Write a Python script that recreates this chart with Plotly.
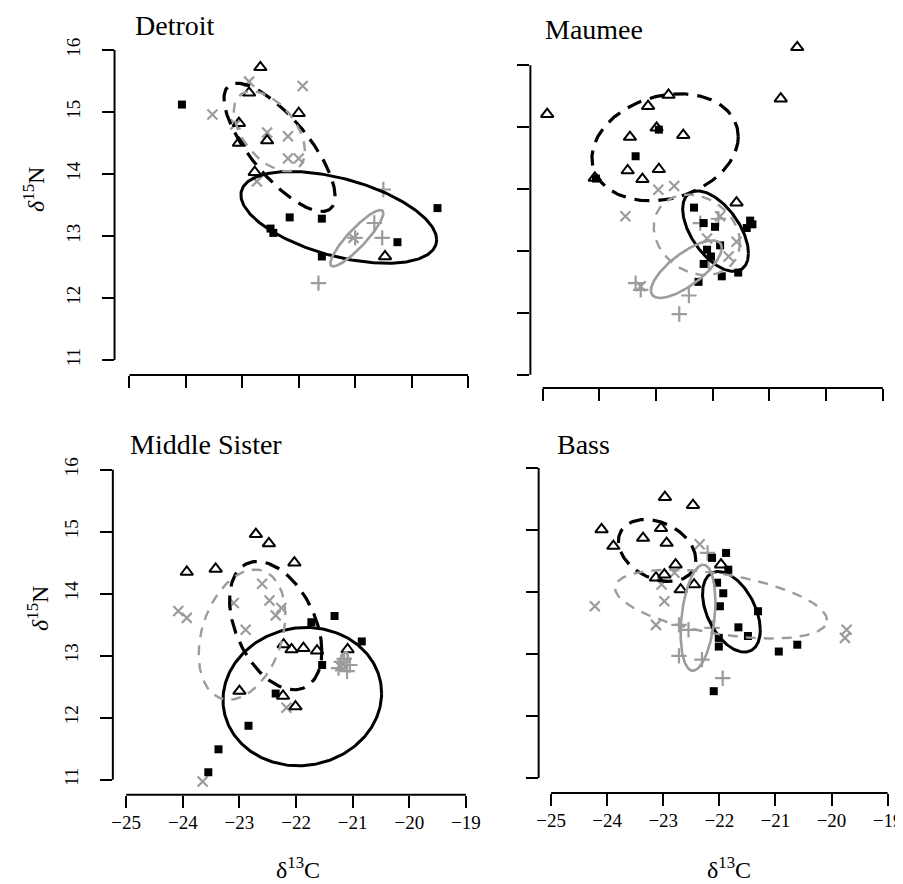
import numpy as np
import plotly.graph_objects as go

W, H = 903, 884

# ---------------- data ----------------
SITES = ["Detroit", "Maumee", "Middle Sister", "Bass"]
X_TICKS = [-25, -24, -23, -22, -21, -20, -19]
X_TICK_LABELS = ["\u221225", "\u221224", "\u221223", "\u221222", "\u221221", "\u221220", "\u221219"]
Y_TICKS = [11, 12, 13, 14, 15, 16]
Y_TICK_LABELS = ["11", "12", "13", "14", "15", "16"]

# Detroit
DET_SQ_X = [-24.07, -22.16, -21.59, -22.50, -22.45, -20.25, -21.59, -19.54]
DET_SQ_Y = [15.12, 13.30, 13.28, 13.12, 13.05, 12.90, 12.67, 13.45]
DET_TRI_X = [-22.68, -22.88, -22.00, -23.06, -23.06, -22.56, -22.78, -20.47]
DET_TRI_Y = [15.72, 15.31, 14.98, 14.82, 14.50, 14.54, 14.03, 12.67]
DET_X_X = [-22.88, -21.93, -23.53, -23.12, -22.56, -22.19, -22.19, -22.00, -22.74, -21.03]
DET_X_Y = [15.49, 15.42, 14.96, 14.80, 14.67, 14.61, 14.25, 14.25, 13.88, 12.97]
DET_PL_X = [-20.50, -20.66, -20.52, -21.00, -21.65]
DET_PL_Y = [13.75, 13.21, 12.97, 12.97, 12.24]

# Maumee
MAU_SQ_X = [-22.95, -23.36, -24.06, -22.33, -22.16, -21.96, -21.34, -21.30, -21.40, -21.87, -22.10, -22.03, -21.84, -21.55, -22.25, -22.16]
MAU_SQ_Y = [14.96, 14.53, 14.17, 13.70, 13.45, 13.39, 13.49, 13.43, 13.37, 13.09, 13.02, 12.91, 12.59, 12.65, 12.50, 12.79]
MAU_TRI_X = [-24.92, -20.51, -20.80, -22.78, -23.14, -22.99, -23.46, -22.52, -23.50, -22.95, -23.24, -24.08, -21.58]
MAU_TRI_Y = [15.21, 16.29, 15.46, 15.52, 15.34, 14.99, 14.84, 14.87, 14.30, 14.32, 14.16, 14.18, 13.78]
MAU_X_X = [-22.96, -22.68, -23.54, -21.87, -22.10, -21.72, -21.58, -23.27]
MAU_X_Y = [13.99, 14.05, 13.56, 13.56, 13.20, 12.91, 13.15, 12.43]
MAU_PL_X = [-23.36, -23.27, -22.59, -22.42, -22.22, -22.07, -21.90]
MAU_PL_Y = [12.48, 12.37, 11.98, 12.28, 13.45, 12.83, 13.52]

# Middle Sister
MS_SQ_X = [-21.32, -21.73, -20.84, -21.54, -22.36, -22.84, -23.37, -23.55]
MS_SQ_Y = [13.64, 13.54, 13.23, 12.85, 12.39, 11.87, 11.49, 11.12]
MS_TRI_X = [-22.71, -22.48, -23.93, -23.42, -22.03, -22.22, -22.08, -21.87, -21.63, -21.09, -23.00, -22.23, -22.01]
MS_TRI_Y = [14.96, 14.81, 14.35, 14.40, 14.50, 13.18, 13.10, 13.12, 13.08, 13.10, 12.43, 12.35, 12.18]
MS_X_X = [-24.08, -23.93, -22.60, -22.47, -22.26, -22.36, -22.89, -23.10, -22.17, -23.65, -21.22]
MS_X_Y = [13.72, 13.61, 14.16, 13.89, 13.77, 13.65, 13.42, 13.85, 12.16, 10.97, 12.83]
MS_PL_X = [-21.25, -21.05, -21.15, -21.10, -21.20]
MS_PL_Y = [12.80, 12.85, 12.95, 12.75, 12.90]

# Bass
BAS_SQ_X = [-21.88, -22.13, -21.84, -22.04, -21.93, -21.99, -21.31, -21.66, -21.49, -22.01, -22.01, -20.61, -20.94, -22.10]
BAS_SQ_Y = [14.63, 14.55, 14.36, 14.15, 13.98, 13.77, 13.69, 13.43, 13.29, 13.26, 13.12, 13.15, 13.04, 12.40]
BAS_TRI_X = [-22.97, -22.47, -24.10, -23.04, -23.36, -22.94, -23.89, -22.78, -21.97, -22.98, -22.69, -22.45, -23.13]
BAS_TRI_Y = [15.53, 15.40, 15.01, 15.03, 14.87, 14.79, 14.74, 14.44, 14.44, 14.28, 14.04, 14.12, 14.23]
BAS_X_X = [-22.35, -24.22, -22.98, -23.03, -23.13, -19.73, -19.76, -22.80]
BAS_X_Y = [14.77, 13.77, 13.85, 14.12, 13.47, 13.39, 13.26, 14.31]
BAS_PL_X = [-22.21, -22.72, -22.55, -22.13, -22.72, -22.31, -21.94]
BAS_PL_Y = [14.63, 13.47, 13.39, 13.42, 12.97, 12.91, 12.61]

# standard ellipses: centre x, centre y, sd x, sd y, correlation  (order: SQ, TRI, X, PL)
DET_ELL = [(-21.29, 13.30, 1.735, 0.74, -0.49), (-22.34, 14.43, 0.985, 1.035, -0.76),
           (-22.52, 14.69, 0.63, 0.645, -0.50), (-20.97, 12.965, 0.47, 0.455, 0.89)]
MAU_ELL = [(-21.95, 13.32, 0.58, 0.65, -0.55), (-22.84, 14.675, 1.29, 0.865, 0.20),
           (-22.28, 13.26, 0.76, 0.65, -0.20), (-22.465, 12.705, 0.625, 0.465, 0.74)]
MS_ELL = [(-21.89, 12.34, 1.40, 1.115, 0.05), (-22.36, 13.485, 0.815, 1.035, -0.40),
          (-22.955, 13.34, 0.765, 1.05, 0.30), (-21.16, 12.91, 0.075, 0.15, 0.50)]
BAS_ELL = [(-21.785, 13.68, 0.515, 0.65, -0.45), (-23.11, 14.67, 0.69, 0.50, -0.30),
           (-21.97, 13.805, 1.89, 0.555, -0.47), (-22.38, 13.585, 0.31, 0.855, 0.30)]

DATA = {
    "Detroit": [(DET_SQ_X, DET_SQ_Y), (DET_TRI_X, DET_TRI_Y), (DET_X_X, DET_X_Y), (DET_PL_X, DET_PL_Y), DET_ELL],
    "Maumee": [(MAU_SQ_X, MAU_SQ_Y), (MAU_TRI_X, MAU_TRI_Y), (MAU_X_X, MAU_X_Y), (MAU_PL_X, MAU_PL_Y), MAU_ELL],
    "Middle Sister": [(MS_SQ_X, MS_SQ_Y), (MS_TRI_X, MS_TRI_Y), (MS_X_X, MS_X_Y), (MS_PL_X, MS_PL_Y), MS_ELL],
    "Bass": [(BAS_SQ_X, BAS_SQ_Y), (BAS_TRI_X, BAS_TRI_Y), (BAS_X_X, BAS_X_Y), (BAS_PL_X, BAS_PL_Y), BAS_ELL],
}

# ---------------- layout geometry (pixels) ----------------
# y-axis x position, x-axis y position, pixel of x=-25, x=-19, y=16, y=11
GEOM = {
    "Detroit": (105, 367, 120, 460, 42, 352),
    "Maumee": (522.7, 380, 535, 876.7, 57.3, 366.7),
    "Middle Sister": (103.3, 786.7, 116.7, 458, 461.7, 771.7),
    "Bass": (531, 785, 543.5, 881.5, 460, 770),
}
TOP_EXTRA = 28  # extra plot room above the y=16 tick (keeps points above 16 visible)
TITLE_POS = {"Detroit": (124, 17), "Maumee": (535, 21), "Middle Sister": (119, 436), "Bass": (547, 436)}

GRAY = "#9c9c9c"
SERIF = "Liberation Serif"

fig = go.Figure()
layout = dict(width=W, height=H, margin=dict(l=0, r=0, t=0, b=0),
              paper_bgcolor="white", plot_bgcolor="white", showlegend=False)
shapes = []
annotations = []

t = np.linspace(0, 2 * np.pi, 241)

for i, site in enumerate(SITES):
    n = "" if i == 0 else str(i + 1)
    xname, yname = "x" + n, "y" + n
    yax_x, xax_y, px25, px19, py16, py11 = GEOM[site]
    pux = (px19 - px25) / 6.0
    offx = px25 - yax_x
    puy = (py11 - py16) / 5.0
    offy = xax_y - py11
    xr = [-25 - offx / pux, -19 + offx / pux]
    yr = [11 - offy / puy, 16 + TOP_EXTRA / puy]
    xd = [yax_x / W, min(1.0, (px19 + offx) / W)]
    yd = [1 - xax_y / H, 1 - (py16 - TOP_EXTRA) / H]
    xr[1] = -25 + (xd[1] * W - px25) / pux
    bottom = i >= 2
    left = i % 2 == 0
    layout["xaxis" + n] = dict(domain=xd, range=xr, anchor=yname, tickmode="array",
                               tickvals=X_TICKS, ticktext=X_TICK_LABELS, ticks="outside",
                               ticklen=12, tickwidth=2, tickcolor="black", showline=False,
                               showgrid=False, zeroline=False, showticklabels=bottom,
                               ticklabelstandoff=-2, ticklabeloverflow="allow",
                               tickfont=dict(family=SERIF, size=19, color="black"))
    layout["yaxis" + n] = dict(domain=yd, range=yr, anchor=xname, tickmode="array",
                               tickvals=Y_TICKS, ticktext=Y_TICK_LABELS, ticks="outside",
                               ticklen=12, tickwidth=2, tickcolor="black", showline=False,
                               showgrid=False, zeroline=False, showticklabels=left,
                               tickangle=-90, ticklabelstandoff=14, ticklabeloverflow="allow",
                               tickfont=dict(family=SERIF, size=19, color="black"))
    # R-style axis lines spanning first..last tick
    shapes.append(dict(type="line", xref=xname, yref=yname + " domain", x0=X_TICKS[0], x1=X_TICKS[-1],
                       y0=0, y1=0, line=dict(color="black", width=2)))
    shapes.append(dict(type="line", xref=xname + " domain", yref=yname, x0=0, x1=0,
                       y0=Y_TICKS[0], y1=Y_TICKS[-1], line=dict(color="black", width=2)))

    sq, tri, xx, pl, ells = DATA[site]
    common = dict(xaxis=xname, yaxis=yname, mode="markers", cliponaxis=False, hoverinfo="skip")
    fig.add_trace(go.Scatter(x=xx[0], y=xx[1], marker=dict(symbol="x-thin", size=10,
                             line=dict(color=GRAY, width=2.2)), **common))
    fig.add_trace(go.Scatter(x=pl[0], y=pl[1], marker=dict(symbol="cross-thin", size=11,
                             line=dict(color=GRAY, width=2.2)), **common))
    fig.add_trace(go.Scatter(x=sq[0], y=sq[1], marker=dict(symbol="square", size=8, color="black",
                             line=dict(width=0)), **common))
    fig.add_trace(go.Scatter(x=tri[0], y=tri[1], marker=dict(symbol="triangle-up-open", size=11,
                             color="black", line=dict(color="black", width=2)), **common))

    styles = [dict(color="black", width=3, dash="solid"),
              dict(color="black", width=3.2, dash="15px,9px"),
              dict(color=GRAY, width=2.4, dash="10px,8px"),
              dict(color=GRAY, width=2.6, dash="solid")]
    for (cx, cy, sx, sy, r), st in zip(ells, styles):
        ex = cx + sx * np.cos(t)
        ey = cy + sy * (r * np.cos(t) + np.sqrt(1 - r * r) * np.sin(t))
        fig.add_trace(go.Scatter(x=ex, y=ey, xaxis=xname, yaxis=yname, mode="lines",
                                 line=st, hoverinfo="skip", cliponaxis=False))

    tx, ty = TITLE_POS[site]
    annotations.append(dict(text=site, xref="paper", yref="paper", x=tx / W, y=1 - ty / H,
                            xanchor="left", yanchor="middle", showarrow=False,
                            font=dict(family=SERIF, size=28, color="black")))

# axis titles
for cx in [289, 722]:
    annotations.append(dict(text="\u03b4<sup>13</sup>C", xref="paper", yref="paper", x=cx / W, y=0,
                            xanchor="center", yanchor="bottom", showarrow=False, yshift=7,
                            font=dict(family=SERIF, size=24, color="black")))
for (cx, cy) in [(24, 181), (28, 600)]:
    annotations.append(dict(text="<i>\u03b4</i><sup>15</sup>N", xref="paper", yref="paper", x=cx / W, y=1 - cy / H,
                            xanchor="center", yanchor="middle", showarrow=False, textangle=-90,
                            font=dict(family=SERIF, size=24, color="black")))

layout["shapes"] = shapes
layout["annotations"] = annotations
fig.update_layout(**layout)
fig.write_html("out.html")
